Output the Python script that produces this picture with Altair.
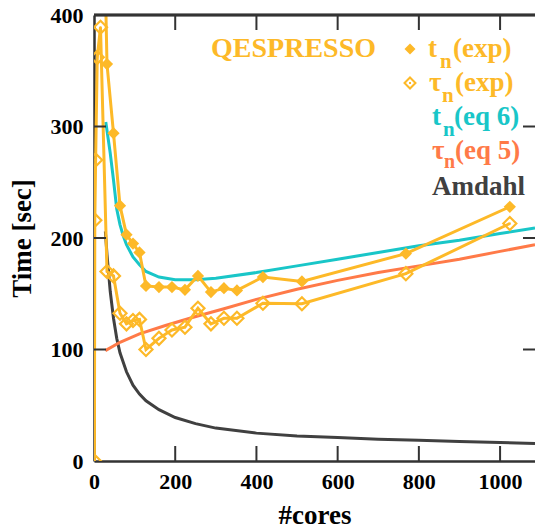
import altair as alt
import pandas as pd

# ---------------- data ----------------
t_cores = [16, 32, 48, 64, 80, 96, 112, 128, 160, 192, 224, 256, 288, 320, 352, 416, 512, 768, 1024]
t_exp = [640, 356, 294, 229, 203, 195, 187, 157, 156, 156, 153.5, 166, 151.5, 155, 153, 165, 161, 186, 228]

tau_cores = [1, 2, 4, 8, 16, 32, 48, 64, 80, 96, 112, 128, 160, 192, 224, 256, 288, 320, 352, 416, 512, 768, 1024]
tau_exp = [0, 216, 270, 362, 389, 170, 166, 132.5, 123, 126, 127, 100, 110, 117.5, 120, 137, 123, 128, 128, 141.5, 141, 168, 213]

eq6_cores = [29, 40, 48, 56, 64, 72, 80, 96, 112, 128, 160, 200, 250, 300, 400, 500, 600, 700, 800, 900, 1000, 1086]
eq6_t = [304, 276, 252, 226, 212, 202, 194, 183, 176, 170, 165, 162.5, 162.5, 164, 169, 175, 181, 187, 193, 198, 204, 209]

eq5_cores = [28, 64, 112, 176, 240, 320, 400, 500, 600, 700, 800, 900, 1000, 1086]
eq5_tau = [99, 106.5, 114, 121.5, 128.5, 136.5, 145, 154, 162, 169, 175, 181, 188, 194]

amd_cores = [28, 32, 40, 48, 56, 64, 80, 96, 112, 128, 160, 200, 250, 300, 400, 500, 600, 700, 800, 900, 1000, 1086]
amd_t = [206, 185, 152, 128, 110, 97, 80, 68, 60, 54, 46, 39, 33.5, 29.5, 25, 22.5, 21, 19.5, 18.5, 17.5, 16.5, 15.7]

x_ticks = [200, 400, 600, 800, 1000]
y_ticks = [100, 200, 300]
x_labels = [0, 200, 400, 600, 800, 1000]
y_labels = [0, 100, 200, 300, 400]

# ---------------- style ----------------
FONT = "Liberation Serif"
ORANGE = "#FDB928"
CYAN = "#19C6C8"
CORAL = "#FF7A48"
GRAY = "#404040"
FRAME = "#333333"
W, H = 441, 446
XD = [0, 1086]
YD = [0, 400]

xs = alt.Scale(domain=XD, nice=False)
ys = alt.Scale(domain=YD, nice=False)

AX_X = alt.Axis(values=x_labels, format="d", grid=False, tickSize=0, labelPadding=10,
                domainColor=FRAME, domainWidth=2.5, labelFlush=False,
                labelFont=FONT, labelFontWeight="bold", labelFontSize=22, labelColor="black",
                titleFont=FONT, titleFontWeight="bold", titleFontSize=27, titleColor="black",
                titlePadding=10)
AX_Y = alt.Axis(values=y_labels, format="d", grid=False, tickSize=0, labelPadding=11,
                domainColor=FRAME, domainWidth=2.5, labelFlush=False,
                labelFont=FONT, labelFontWeight="bold", labelFontSize=22, labelColor="black",
                titleFont=FONT, titleFontWeight="bold", titleFontSize=27, titleColor="black",
                titlePadding=14)

df_t = pd.DataFrame({"cores": t_cores, "time": t_exp})
df_tau = pd.DataFrame({"cores": tau_cores, "time": tau_exp})
df_eq6 = pd.DataFrame({"cores": eq6_cores, "time": eq6_t})
df_eq5 = pd.DataFrame({"cores": eq5_cores, "time": eq5_tau})
df_amd = pd.DataFrame({"cores": amd_cores, "time": amd_t})
df_xt = pd.DataFrame({"cores": x_ticks})
df_yt = pd.DataFrame({"time": y_ticks})
one = pd.DataFrame({"k": [0]})

X = alt.X("cores:Q", scale=xs, title="#cores", axis=AX_X)
Y = alt.Y("time:Q", scale=ys, title="Time [sec]", axis=AX_Y)


def line(df, color):
    return alt.Chart(df).mark_line(color=color, strokeWidth=3, clip=True).encode(x=X, y=Y)


top_rule = alt.Chart(df_yt).mark_rule(color=FRAME, strokeWidth=2.5).encode(
    y=alt.datum(400, scale=ys, axis=AX_Y, title="Time [sec]"))

bot_ticks = alt.Chart(df_xt).mark_rule(color=FRAME, strokeWidth=2).encode(
    x=X, y=alt.value(H), y2=alt.value(H - 15))
top_ticks = alt.Chart(df_xt).mark_rule(color=FRAME, strokeWidth=2).encode(
    x=X, y=alt.value(0), y2=alt.value(15))
left_ticks = alt.Chart(df_yt).mark_rule(color=FRAME, strokeWidth=2).encode(
    y=Y, x=alt.value(0), x2=alt.value(12))
right_ticks = alt.Chart(df_yt).mark_rule(color=FRAME, strokeWidth=2).encode(
    y=Y, x=alt.value(W - 12), x2=alt.value(W))

amd_line = line(df_amd, GRAY)
eq5_line = line(df_eq5, CORAL)
eq6_line = line(df_eq6, CYAN)
tau_line = line(df_tau, ORANGE)
t_line = line(df_t, ORANGE)

tau_pts = alt.Chart(df_tau).mark_point(shape="diamond", filled=False, color=ORANGE, strokeWidth=2.2,
                                       size=170, opacity=1, clip=True).encode(x=X, y=Y)
tau_dots = alt.Chart(df_tau).mark_point(shape="square", filled=True, color=ORANGE, size=4,
                                        opacity=1, clip=True).encode(x=X, y=Y)
t_pts = alt.Chart(df_t).mark_point(shape="diamond", filled=True, color=ORANGE, size=150,
                                   opacity=1, clip=True).encode(x=X, y=Y)


def txt(s, x, y, color, size=27, align="left"):
    return alt.Chart(one).mark_text(text=s, align=align, baseline="alphabetic", font=FONT,
                                    fontWeight="bold", fontSize=size, color=color).encode(
        x=alt.value(x), y=alt.value(y))


legend = [
    txt("QESPRESSO", 199.5, 42, ORANGE, size=28, align="center"),
    alt.Chart(one).mark_point(shape="diamond", filled=True, color=ORANGE, size=120, opacity=1).encode(
        x=alt.value(316), y=alt.value(34)),
    txt("t", 334, 42, ORANGE), txt("n", 346, 53, ORANGE, 21), txt("(exp)", 359, 42, ORANGE),
    alt.Chart(one).mark_point(shape="diamond", filled=False, color=ORANGE, strokeWidth=2, size=120,
                              opacity=1).encode(x=alt.value(316), y=alt.value(68)),
    alt.Chart(one).mark_point(shape="square", filled=True, color=ORANGE, size=4, opacity=1).encode(
        x=alt.value(316), y=alt.value(68)),
    txt("τ", 335, 76, ORANGE), txt("n", 348, 87, ORANGE, 21), txt("(exp)", 361, 76, ORANGE),
    txt("t", 338, 110, CYAN), txt("n", 349, 121, CYAN, 21), txt("(eq 6)", 360, 110, CYAN),
    txt("τ", 338, 144, CORAL), txt("n", 350, 153, CORAL, 20), txt("(eq 5)", 361, 144, CORAL),
    txt("Amdahl", 338, 180, GRAY),
]

chart = alt.layer(
    amd_line, eq5_line, eq6_line, tau_line, t_line, tau_pts, tau_dots, t_pts,
    top_rule, bot_ticks, top_ticks, left_ticks, right_ticks, *legend
).properties(
    width=W, height=H,
    autosize=alt.AutoSizeParams(type="none"),
    padding={"left": 94, "top": 15, "right": 0, "bottom": 69},
).configure_view(stroke=None).configure(background="white")

chart.save("out.html", embed_options={"renderer": "svg", "actions": False})
